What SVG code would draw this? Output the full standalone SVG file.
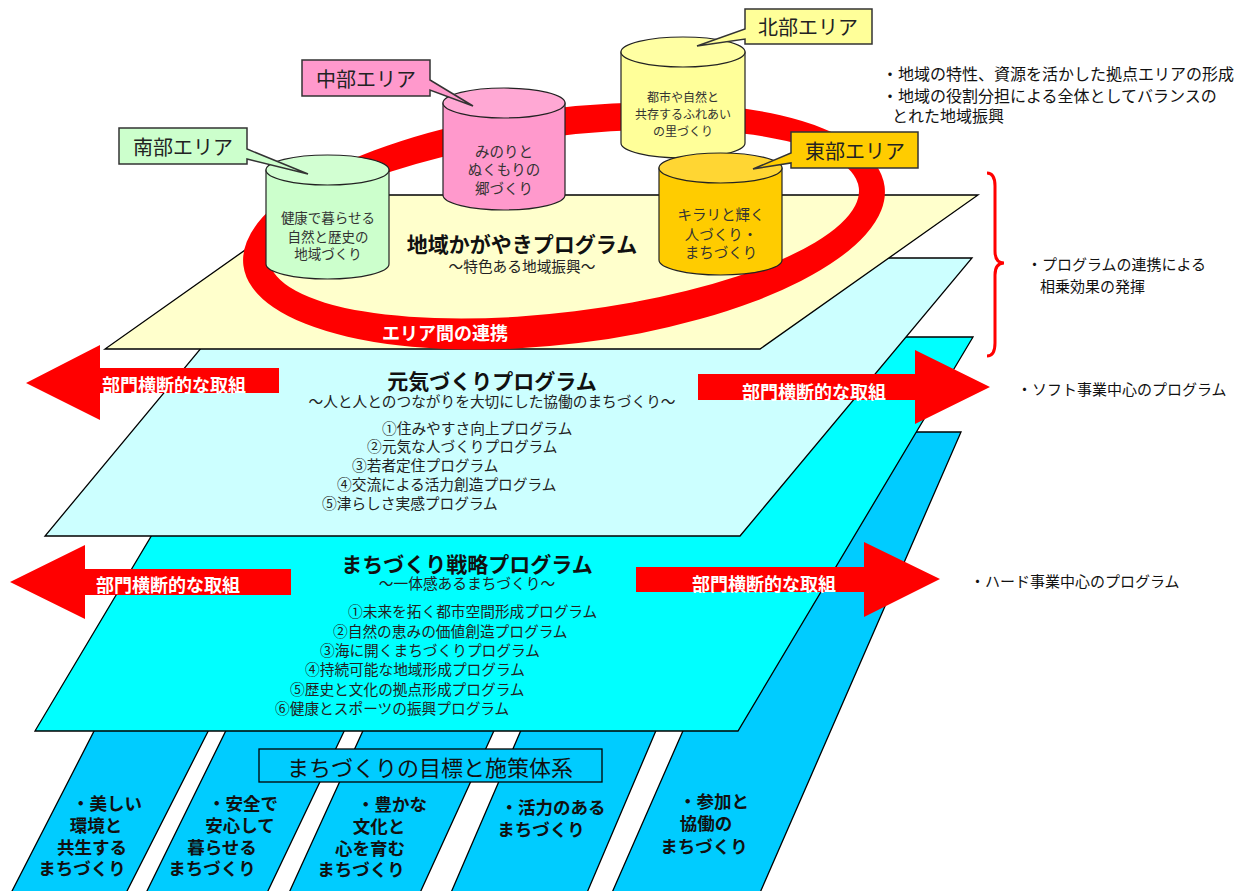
<svg xmlns="http://www.w3.org/2000/svg" width="1251" height="891" viewBox="0 0 1251 891">
<style>
text{font-family:"Noto Sans CJK JP","Noto Sans",sans-serif;fill:#111;dominant-baseline:central}
.ly{stroke:#000;stroke-width:1.3}
.cyl{stroke:#222;stroke-width:1.2}
.co{stroke:#333;stroke-width:1.5}
.ttl{font-size:21px;font-weight:bold;text-anchor:middle}
.sub{font-size:14.7px;text-anchor:middle;fill:#222}
.li{font-size:14.7px;fill:#222}
.st{font-size:17.5px;font-weight:bold;text-anchor:middle}
.arw{fill:#FF0000}
.at{font-size:18px;font-weight:bold;fill:#fff;text-anchor:middle}
.ct{font-size:20px;text-anchor:middle;fill:#222}
.cy{text-anchor:middle;fill:#333}
.rt{font-size:16px}
.rt2{font-size:15px}
</style>
<rect width="1251" height="891" fill="#fff"/>
<g id="strips">
<polygon class="ly" fill="#00CCFF" points="110,700 224,700 125,895 10,895"/>
<polygon class="ly" fill="#00CCFF" points="241,700 359,700 266,895 145,895"/>
<polygon class="ly" fill="#00CCFF" points="377,700 508,700 419,895 288,895"/>
<polygon class="ly" fill="#00CCFF" points="534,700 669,700 586,895 450,895"/>
<polygon class="ly" fill="#00CCFF" points="814,432 961,432 759,895 611,895"/>
</g>
<g id="layer-senryaku">
<polygon class="ly" fill="#00FFFF" points="270,337 973,337 738,731 35,731"/>
</g>
<g id="layer-genki">
<polygon class="ly" fill="#CCFFFF" points="276,258 972,258 740,536 45,536"/>
</g>
<g id="layer-kagayaki">
<polygon class="ly" fill="#FFFFCC" points="323,195 978,195 760,349 105,349"/>
</g>
<g id="ring">
<path fill="#FF0000" fill-rule="evenodd" d="M243.4,265.4 A323,118 -7 1 0 884.6,186.6 A323,118 -7 1 0 243.4,265.4 Z M269.2,260.2 A297,88 -7 1 0 858.8,187.8 A297,88 -7 1 0 269.2,260.2 Z"/>
<text x="445" y="332" font-size="18" font-weight="bold" text-anchor="middle" style="fill:#fff">エリア間の連携</text>
</g>
<g id="cyl-north">
<path class="cyl" fill="#FFFF99" d="M621,52 V143 A62,15 0 0 0 745,143 V52 Z"/>
<ellipse class="cyl" fill="#FFFFA3" cx="683" cy="52" rx="62" ry="15"/>
<text class="cy" x="683" y="96" font-size="12">都市や自然と</text>
<text class="cy" x="683" y="113" font-size="12">共存するふれあい</text>
<text class="cy" x="683" y="130" font-size="12">の里づくり</text>
</g>
<g id="cyl-central">
<path class="cyl" fill="#FF99CC" d="M443,103 V195 A61,15 0 0 0 565,195 V103 Z"/>
<ellipse class="cyl" fill="#FFA8D4" cx="504" cy="103" rx="61" ry="15"/>
<text class="cy" x="504" y="150" font-size="14.5">みのりと</text>
<text class="cy" x="504" y="168" font-size="14.5">ぬくもりの</text>
<text class="cy" x="504" y="187" font-size="14.5">郷づくり</text>
</g>
<g id="cyl-south">
<path class="cyl" fill="#CCFFCC" d="M266,170 V264 A61.5,15 0 0 0 389,264 V170 Z"/>
<ellipse class="cyl" fill="#D2FFD2" cx="327.5" cy="170" rx="61.5" ry="15"/>
<text class="cy" x="328" y="217" font-size="13.5">健康で暮らせる</text>
<text class="cy" x="328" y="236" font-size="13.5">自然と歴史の</text>
<text class="cy" x="328" y="253" font-size="13.5">地域づくり</text>
</g>
<g id="cyl-east">
<path class="cyl" fill="#FFCC00" d="M659,168 V260 A61.5,15 0 0 0 782,260 V168 Z"/>
<ellipse class="cyl" fill="#FFD633" cx="720.5" cy="168" rx="61.5" ry="15"/>
<text class="cy" x="721" y="213" font-size="14.5">キラリと輝く</text>
<text class="cy" x="721" y="233" font-size="14.5">人づくり・</text>
<text class="cy" x="721" y="251" font-size="14.5">まちづくり</text>
</g>
<g id="callout-south">
<path class="co" fill="#CCFFCC" d="M119,128 H247 V149 L308,174 L247,159 V164 H119 Z"/>
<text class="ct" x="183" y="146">南部エリア</text>
</g>
<g id="callout-central">
<path class="co" fill="#FF99CC" d="M302,60 H430 V80 L473,106 L430,90 V96 H302 Z"/>
<text class="ct" x="366" y="78">中部エリア</text>
</g>
<g id="callout-north">
<path class="co" fill="#FFFF99" d="M745,9 H872 V44 H745 V39 L697,46 L745,29 Z"/>
<text class="ct" x="808" y="26">北部エリア</text>
</g>
<g id="callout-east">
<path class="co" fill="#FFCC00" d="M791,132 H918 V168 H791 V163 L753,169 L791,153 Z"/>
<text class="ct" x="855" y="150">東部エリア</text>
</g>
<g id="texts-kagayaki">
<text class="ttl" x="522" y="243">地域かがやきプログラム</text>
<text class="sub" x="522" y="265">～特色ある地域振興～</text>
</g>
<g id="texts-genki">
<text class="ttl" x="492" y="380">元気づくりプログラム</text>
<text class="sub" x="492" y="400">～人と人とのつながりを大切にした協働のまちづくり～</text>
<text class="li" x="382" y="427">①住みやすさ向上プログラム</text>
<text class="li" x="367" y="445">②元気な人づくりプログラム</text>
<text class="li" x="352" y="464">③若者定住プログラム</text>
<text class="li" x="337" y="483">④交流による活力創造プログラム</text>
<text class="li" x="322" y="502">⑤津らしさ実感プログラム</text>
</g>
<g id="texts-senryaku">
<text class="ttl" x="467" y="563">まちづくり戦略プログラム</text>
<text class="sub" x="467" y="582">～一体感あるまちづくり～</text>
<text class="li" x="348" y="610">①未来を拓く都市空間形成プログラム</text>
<text class="li" x="333" y="630">②自然の恵みの価値創造プログラム</text>
<text class="li" x="320" y="649">③海に開くまちづくりプログラム</text>
<text class="li" x="305" y="668">④持続可能な地域形成プログラム</text>
<text class="li" x="290" y="688">⑤歴史と文化の拠点形成プログラム</text>
<text class="li" x="275" y="707">⑥健康とスポーツの振興プログラム</text>
</g>
<g id="arrows">
<polygon class="arw" points="26,383 100,345 100,368 279,368 279,393 100,393 100,420"/>
<text class="at" x="174" y="384">部門横断的な取組</text>
<polygon class="arw" points="698,374 915,374 915,350 990,387 915,424 915,400 698,400"/>
<text class="at" x="814" y="391">部門横断的な取組</text>
<polygon class="arw" points="10,582 85,545 85,569 291,569 291,595 85,595 85,619"/>
<text class="at" x="168" y="584">部門横断的な取組</text>
<polygon class="arw" points="636,567 864,567 864,542 940,579 864,617 864,592 636,592"/>
<text class="at" x="764" y="583">部門横断的な取組</text>
</g>
<g id="goal-box">
<rect class="ly" fill="#00CCFF" x="259" y="749" width="343" height="33"/>
<text x="430" y="766" font-size="22" text-anchor="middle">まちづくりの目標と施策体系</text>
</g>
<g id="strip-texts">
<text class="st" x="107" y="802">・美しい</text>
<text class="st" x="96" y="824">環境と</text>
<text class="st" x="92" y="846">共生する</text>
<text class="st" x="82" y="867">まちづくり</text>
<text class="st" x="243" y="802">・安全で</text>
<text class="st" x="240" y="824">安心して</text>
<text class="st" x="222" y="846">暮らせる</text>
<text class="st" x="212" y="867">まちづくり</text>
<text class="st" x="392" y="803">・豊かな</text>
<text class="st" x="379" y="825">文化と</text>
<text class="st" x="370" y="847">心を育む</text>
<text class="st" x="361" y="868">まちづくり</text>
<text class="st" x="553" y="806">・活力のある</text>
<text class="st" x="541" y="828">まちづくり</text>
<text class="st" x="714" y="800">・参加と</text>
<text class="st" x="706" y="822">協働の</text>
<text class="st" x="704" y="845">まちづくり</text>
</g>
<g id="brace">
<path d="M987,173 Q995,173 995,186 L995,251 Q995,263 1004,263 Q995,263 995,275 L995,343 Q995,356 987,356" fill="none" stroke="#FF0000" stroke-width="3"/>
</g>
<g id="side-notes">
<text class="rt" x="882" y="73">・地域の特性、資源を活かした拠点エリアの形成</text>
<text class="rt" x="882" y="95">・地域の役割分担による全体としてバランスの</text>
<text class="rt" x="892" y="115">とれた地域振興</text>
<text class="rt2" x="1027" y="263">・プログラムの連携による</text>
<text class="rt2" x="1040" y="285">相乗効果の発揮</text>
<text class="rt2" x="1017" y="388">・ソフト事業中心のプログラム</text>
<text class="rt2" x="970" y="580">・ハード事業中心のプログラム</text>
</g>
</svg>
